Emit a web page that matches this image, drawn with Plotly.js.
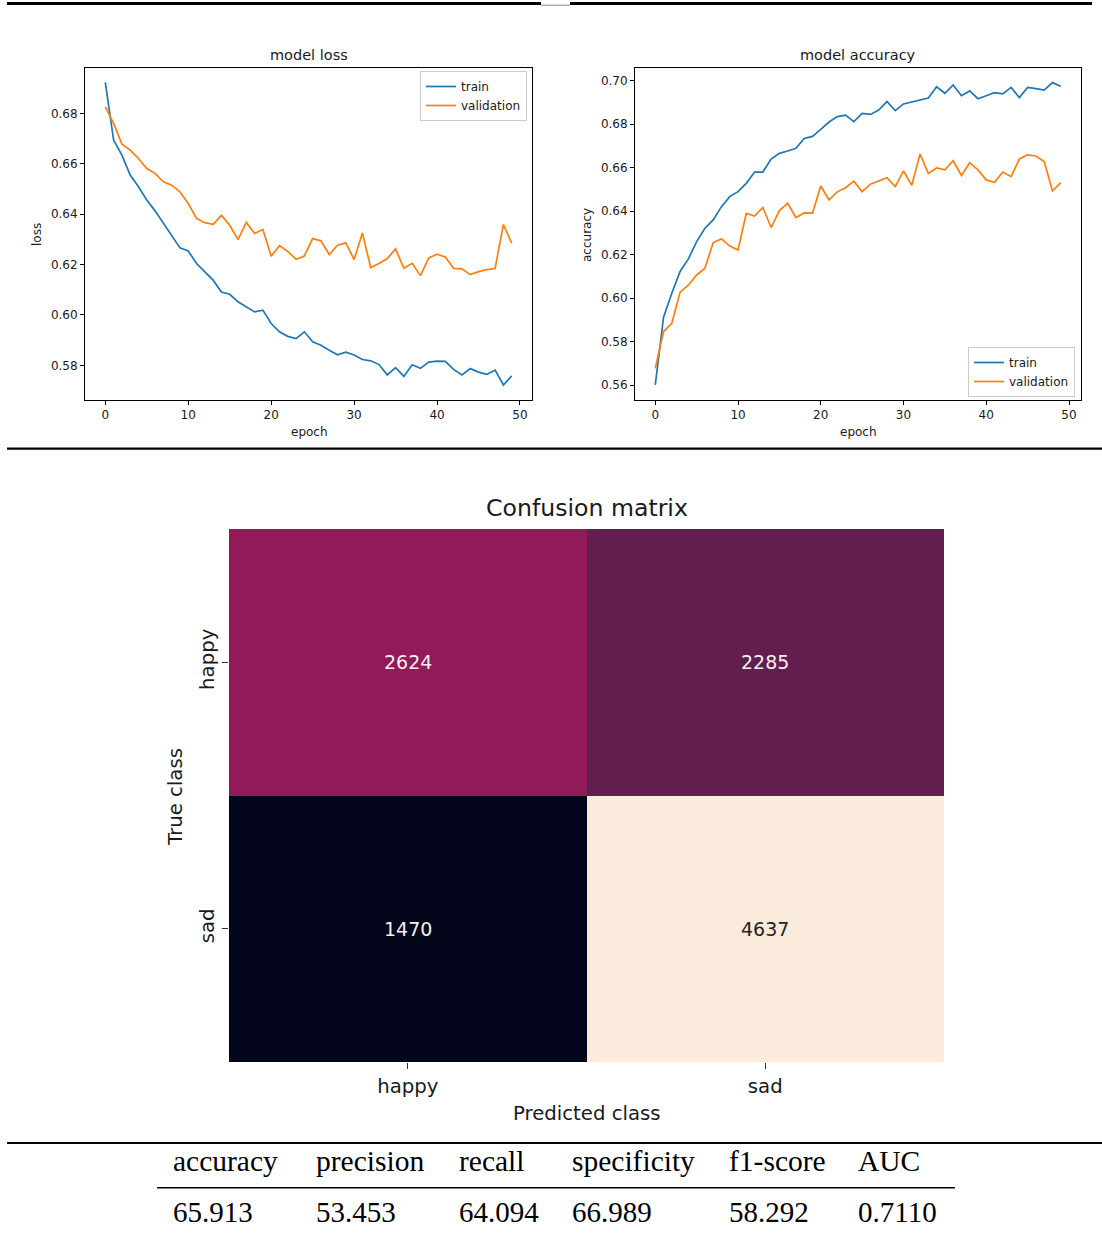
<!DOCTYPE html>
<html>
<head>
<meta charset="utf-8">
<script src="https://cdn.plot.ly/plotly-3.0.1.min.js"></script>
<style>html,body{margin:0;padding:0;background:#fff;}#chart{width:1102px;height:1236px;}</style>
</head>
<body>
<div id="chart"></div>
<script>
// ---------- data ----------
const epochs = [0,1,2,3,4,5,6,7,8,9,10,11,12,13,14,15,16,17,18,19,20,21,22,23,24,25,26,27,28,29,30,31,32,33,34,35,36,37,38,39,40,41,42,43,44,45,46,47,48,49];
const trainLoss = [0.6923,0.6694,0.6634,0.6555,0.6509,0.6456,0.6413,0.6363,0.6314,0.6266,0.6254,0.6204,0.6171,0.6138,0.6091,0.6082,0.6052,0.6032,0.6012,0.6019,0.5966,0.5933,0.5915,0.5906,0.5933,0.5893,0.5880,0.5860,0.5842,0.5852,0.5841,0.5823,0.5818,0.5803,0.5762,0.5791,0.5756,0.5802,0.5788,0.5813,0.5817,0.5816,0.5784,0.5762,0.5787,0.5773,0.5764,0.5781,0.5722,0.5758];
const valLoss = [0.6826,0.6760,0.6678,0.6654,0.6621,0.6581,0.6562,0.6528,0.6515,0.6489,0.6442,0.6383,0.6366,0.6360,0.6395,0.6356,0.6299,0.6367,0.6323,0.6339,0.6233,0.6275,0.6252,0.6221,0.6234,0.6303,0.6294,0.6240,0.6277,0.6286,0.6220,0.6325,0.6188,0.6204,0.6224,0.6262,0.6185,0.6205,0.6156,0.6226,0.6241,0.6230,0.6185,0.6183,0.6160,0.6172,0.6180,0.6184,0.6359,0.6285];
const trainAcc = [0.5602,0.5913,0.6023,0.6123,0.6181,0.6260,0.6322,0.6360,0.6421,0.6467,0.6490,0.6528,0.6580,0.6580,0.6640,0.6666,0.6677,0.6689,0.6734,0.6744,0.6776,0.6810,0.6835,0.6842,0.6812,0.6850,0.6845,0.6865,0.6904,0.6862,0.6893,0.6902,0.6914,0.6920,0.6972,0.6942,0.6980,0.6931,0.6953,0.6917,0.6931,0.6945,0.6939,0.6969,0.6922,0.6969,0.6963,0.6957,0.6991,0.6974];
const valAcc = [0.5678,0.5847,0.5885,0.6028,0.6060,0.6107,0.6138,0.6256,0.6273,0.6240,0.6222,0.6390,0.6378,0.6417,0.6325,0.6403,0.6436,0.6371,0.6392,0.6391,0.6516,0.6452,0.6489,0.6508,0.6538,0.6490,0.6524,0.6539,0.6554,0.6513,0.6585,0.6519,0.6663,0.6574,0.6599,0.6590,0.6632,0.6564,0.6623,0.6590,0.6544,0.6533,0.6580,0.6559,0.6640,0.6659,0.6654,0.6628,0.6493,0.6531];

const classes = ['happy', 'sad'];
const confusion = [[2624, 2285], [1470, 4637]];

const metricNames = ['accuracy', 'precision', 'recall', 'specificity', 'f1-score', 'AUC'];
const metricValues = ['65.913', '53.453', '64.094', '66.989', '58.292', '0.7110'];

// ---------- layout helpers ----------
const W = 1102, H = 1236;
const px = v => v / W;
const py = v => 1 - v / H;

const BLUE = '#1f77b4', ORANGE = '#ff7f0e';
const SANS = 'DejaVu Sans';
const SERIF = 'Liberation Serif';

const traces = [
  {x: epochs, y: trainLoss, type: 'scatter', mode: 'lines', name: 'train', line: {color: BLUE, width: 1.7}, xaxis: 'x', yaxis: 'y', legend: 'legend'},
  {x: epochs, y: valLoss, type: 'scatter', mode: 'lines', name: 'validation', line: {color: ORANGE, width: 1.7}, xaxis: 'x', yaxis: 'y', legend: 'legend'},
  {x: epochs, y: trainAcc, type: 'scatter', mode: 'lines', name: 'train', line: {color: BLUE, width: 1.7}, xaxis: 'x2', yaxis: 'y2', legend: 'legend2'},
  {x: epochs, y: valAcc, type: 'scatter', mode: 'lines', name: 'validation', line: {color: ORANGE, width: 1.7}, xaxis: 'x2', yaxis: 'y2', legend: 'legend2'},
  {
    type: 'heatmap', x: classes, y: classes, z: confusion, xaxis: 'x3', yaxis: 'y3',
    showscale: false, showlegend: false, hoverinfo: 'skip',
    colorscale: [[0, '#03051a'], [0.125, '#2c113a'], [0.257, '#631e50'], [0.364, '#911b58'], [0.5, '#cb1b4f'], [0.625, '#ed4942'], [0.75, '#f57a5a'], [0.875, '#f6b08e'], [1, '#faebdd']]
  }
];

const tickFont = {family: SANS, size: 12, color: '#1a1a1a'};
const lineAxis = (domain, anchor, extra) => Object.assign({
  domain: domain, anchor: anchor, showline: true, mirror: true, linecolor: '#000', linewidth: 1,
  ticks: 'outside', ticklen: 4, tickwidth: 1, tickcolor: '#000', showgrid: false, zeroline: false,
  tickfont: tickFont
}, extra);

const yDom = [py(400), py(68)];

const annotations = [];
function addText(text, x, y, size, opts) {
  annotations.push(Object.assign({text: text, x: px(x), y: py(y), xref: 'paper', yref: 'paper', showarrow: false,
    font: {family: SANS, size: size, color: '#1a1a1a'}, xanchor: 'center', yanchor: 'middle'}, opts || {}));
}
addText('model loss', 309, 55, 14.5);
addText('model accuracy', 858, 55, 14.5);
addText('epoch', 309, 432, 12);
addText('epoch', 858, 432, 12);
addText('loss', 37, 235, 12, {textangle: -90});
addText('accuracy', 587, 235, 12, {textangle: -90});
addText('True class', 175, 797, 19.7, {textangle: -90});
addText('Predicted class', 587, 1113, 19.7);

// cell value labels on the heatmap
const zAll = confusion.flat();
const zMin = Math.min(...zAll), zMax = Math.max(...zAll);
confusion.forEach((row, i) => row.forEach((v, j) => {
  const t = (v - zMin) / (zMax - zMin);
  annotations.push({text: String(v), x: classes[j], y: classes[i], xref: 'x3', yref: 'y3', showarrow: false,
    font: {family: SANS, size: 19, color: t > 0.6 ? '#262626' : '#f4f0f2'}});
}));

// table of metrics
const colX = [171, 314, 457, 570, 727, 856];
metricNames.forEach((n, i) => {
  annotations.push({text: n, x: px(colX[i]), y: py(1161), xref: 'paper', yref: 'paper', showarrow: false,
    xanchor: 'left', yanchor: 'middle', font: {family: SERIF, size: 29.5, color: '#000'}});
  annotations.push({text: metricValues[i], x: px(colX[i]), y: py(1212), xref: 'paper', yref: 'paper', showarrow: false,
    xanchor: 'left', yanchor: 'middle', font: {family: SERIF, size: 29, color: '#000'}});
});

function hline(x0, x1, y, w, c) {
  return {type: 'line', xref: 'paper', yref: 'paper', x0: px(x0), x1: px(x1), y0: py(y), y1: py(y), line: {color: c || '#000', width: w}};
}
const shapes = [
  hline(7, 541, 3.5, 3),
  hline(570, 1092, 3.5, 3),
  hline(541, 570, 5.2, 1, '#888'),
  hline(7, 1102, 448.7, 2.2),
  hline(7, 1102, 1143, 2.2),
  hline(157, 955, 1187.7, 1.5)
];

const legendBase = {font: {family: SANS, size: 12, color: '#1a1a1a'}, bgcolor: 'rgba(255,255,255,0.85)', bordercolor: '#cccccc', borderwidth: 1,
  xref: 'paper', yref: 'paper', itemwidth: 30, tracegroupgap: 0};

const layout = {
  width: W, height: H, margin: {l: 0, r: 0, t: 0, b: 0},
  paper_bgcolor: '#fff', plot_bgcolor: '#fff',
  title: {text: 'Confusion matrix', x: px(587), y: py(508), xref: 'paper', yref: 'paper', xanchor: 'center', yanchor: 'middle',
    font: {family: SANS, size: 23.6, color: '#1a1a1a'}},
  xaxis: lineAxis([px(85), px(532)], 'y', {range: [-2.45, 51.45], tickvals: [0, 10, 20, 30, 40, 50]}),
  yaxis: lineAxis(yDom, 'x', {range: [0.56624, 0.6980], tickvals: [0.58, 0.60, 0.62, 0.64, 0.66, 0.68], tickformat: '.2f'}),
  xaxis2: lineAxis([px(635), px(1081)], 'y2', {range: [-2.45, 51.45], tickvals: [0, 10, 20, 30, 40, 50]}),
  yaxis2: lineAxis(yDom, 'x2', {range: [0.55324, 0.70582], tickvals: [0.56, 0.58, 0.60, 0.62, 0.64, 0.66, 0.68, 0.70], tickformat: '.2f'}),
  xaxis3: {domain: [px(229), px(944)], anchor: 'y3', showline: false, showgrid: false, zeroline: false,
    ticks: 'outside', ticklen: 6, tickwidth: 1, tickcolor: '#333', tickfont: {family: SANS, size: 19.7, color: '#1a1a1a'}},
  yaxis3: {domain: [py(1062), py(529)], anchor: 'x3', autorange: 'reversed', showline: false, showgrid: false, zeroline: false,
    ticks: 'outside', ticklen: 6, tickwidth: 1, tickcolor: '#333', tickangle: -90, tickfont: {family: SANS, size: 19.7, color: '#1a1a1a'}},
  legend: Object.assign({}, legendBase, {x: px(527), y: py(71), xanchor: 'right', yanchor: 'top'}),
  legend2: Object.assign({}, legendBase, {x: px(1075), y: py(397), xanchor: 'right', yanchor: 'bottom'}),
  annotations: annotations,
  shapes: shapes,
  hovermode: false
};

Plotly.newPlot('chart', traces, layout, {displayModeBar: false, staticPlot: true});
</script>
</body>
</html>
